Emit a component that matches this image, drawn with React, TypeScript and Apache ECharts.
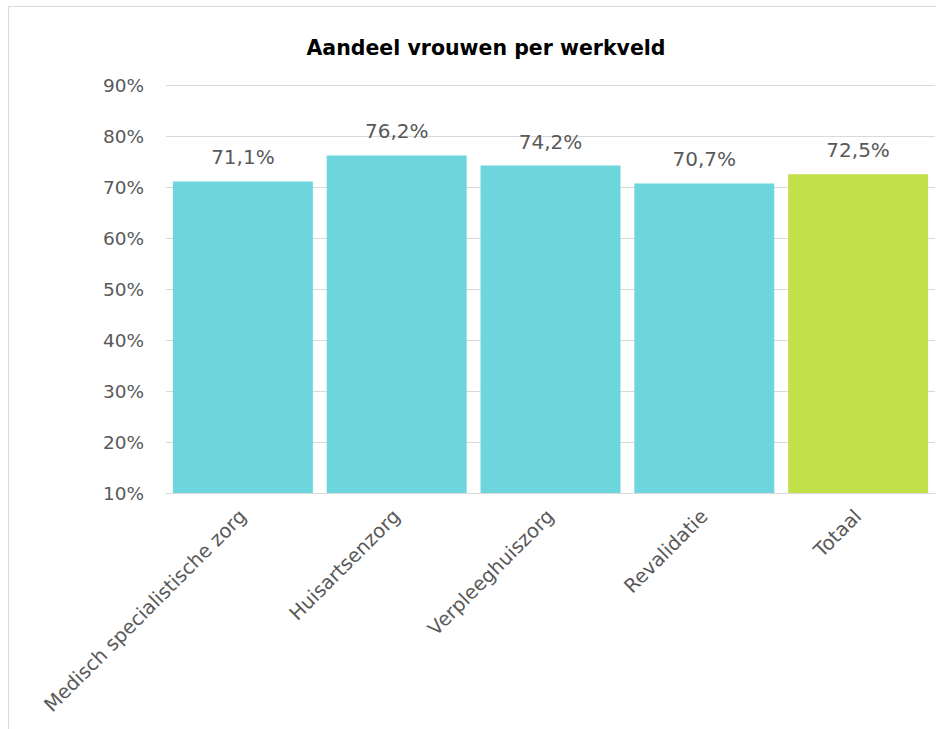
import React, { useEffect, useRef } from "react";
import * as echarts from "echarts";

const title = "Aandeel vrouwen per werkveld";
const categories = [
  "Medisch specialistische zorg",
  "Huisartsenzorg",
  "Verpleeghuiszorg",
  "Revalidatie",
  "Totaal",
];
const values = [71.1, 76.2, 74.2, 70.7, 72.5];
const barColors = ["#6DD6DC", "#6DD6DC", "#6DD6DC", "#6DD6DC", "#C1E04A"];
const yMin = 10;
const yMax = 90;
const yInterval = 10;

const FONT = "DejaVu Sans";

export default function App() {
  const ref = useRef<HTMLDivElement>(null);
  useEffect(() => {
    if (!ref.current) return;
    const chart = echarts.init(ref.current, undefined, { renderer: "svg" });
    chart.setOption({
      animation: false,
      backgroundColor: "#ffffff",
      title: {
        text: title,
        left: 481,
        textAlign: "center",
        top: 32,
        textStyle: { fontFamily: FONT, fontWeight: "bold", fontSize: 20.5, color: "#000000" },
      },
      graphic: [
        {
          type: "rect",
          shape: { x: 8.5, y: 6.5, width: 1000, height: 1000 },
          style: { fill: "none", stroke: "#D9D9D9", lineWidth: 1 },
          silent: true,
        },
      ],
      grid: { left: 166, right: 1, top: 85, bottom: 236, containLabel: false },
      xAxis: {
        type: "category",
        data: categories,
        axisLine: { show: true, lineStyle: { color: "#D9D9D9", width: 1 } },
        axisTick: { show: false },
        axisLabel: {
          rotate: 45,
          interval: 0,
          margin: 20,
          fontFamily: FONT,
          fontSize: 19.5,
          color: "#595959",
        },
      },
      yAxis: {
        type: "value",
        min: yMin,
        max: yMax,
        interval: yInterval,
        axisLine: { show: false },
        axisTick: { show: false },
        splitLine: { lineStyle: { color: "#D9D9D9", width: 1 } },
        axisLabel: {
          formatter: (v: number) => `${v}%`,
          margin: 22,
          fontFamily: FONT,
          fontSize: 18.5,
          color: "#595959",
        },
      },
      series: [
        {
          type: "bar",
          barCategoryGap: "9%",
          data: values.map((v, i) => ({ value: v, itemStyle: { color: barColors[i] } })),
          label: {
            show: true,
            position: "top",
            distance: 14,
            formatter: (p: any) => `${String(p.value.toFixed(1)).replace(".", ",")}%`,
            fontFamily: FONT,
            fontSize: 20,
            color: "#595959",
          },
        },
      ],
    });
    return () => chart.dispose();
  }, []);
  return (
    <div
      ref={ref}
      style={{ position: "absolute", left: 0, top: 0, width: 936, height: 729 }}
    />
  );
}
